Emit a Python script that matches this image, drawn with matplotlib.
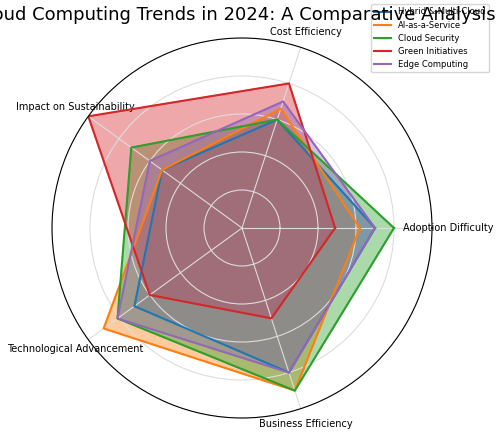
import matplotlib.pyplot as plt
import numpy as np

categories = ['Adoption Difficulty', 'Cost Efficiency', 'Impact on Sustainability',
              'Technological Advancement', 'Business Efficiency']
series_names = ['Hybrid & Multi-Cloud', 'AI-as-a-Service', 'Cloud Security',
                'Green Initiatives', 'Edge Computing']
hybrid = [7, 6, 5.2, 7, 8]
ai_service = [6.2, 6.6, 5.2, 9, 9]
security = [8, 6, 7.2, 8.1, 9]
green = [4.9, 8, 10, 6, 5]
edge = [7, 7, 6, 8.1, 8]
colors = ['#1f77b4', '#ff7f0e', '#2ca02c', '#d62728', '#9467bd']


def main():
    values = [hybrid, ai_service, security, green, edge]
    angles = np.linspace(0, 2 * np.pi, len(categories), endpoint=False)
    closed = np.concatenate([angles, angles[:1]])

    fig = plt.figure(figsize=(5, 4.41), dpi=100)
    # polar area ~ 380 px across, centred near (242, 228)
    ax = fig.add_axes([0.104, 0.052, 0.76, 0.862], polar=True)
    for name, vals, c in zip(series_names, values, colors):
        v = np.concatenate([vals, vals[:1]])
        ax.plot(closed, v, color=c, linewidth=1.5, label=name)
        ax.fill(closed, v, color=c, alpha=0.4)
    ax.set_ylim(0, 10)
    ax.set_yticks([2, 4, 6, 8, 10])
    ax.set_yticklabels([])
    ax.set_xticks(angles)
    ax.set_xticklabels(categories, fontsize=7)
    ax.tick_params(axis='x', pad=1)
    ax.grid(color='#dddddd', linewidth=0.8)
    fig.text(0.47, 0.965, 'Cloud Computing Trends in 2024: A Comparative Analysis',
             fontsize=13, ha='center', va='center')
    ax.legend(loc='upper right', bbox_to_anchor=(1.16, 1.1), fontsize=6)
    fig.savefig('out.png')


if __name__ == '__main__':
    main()
